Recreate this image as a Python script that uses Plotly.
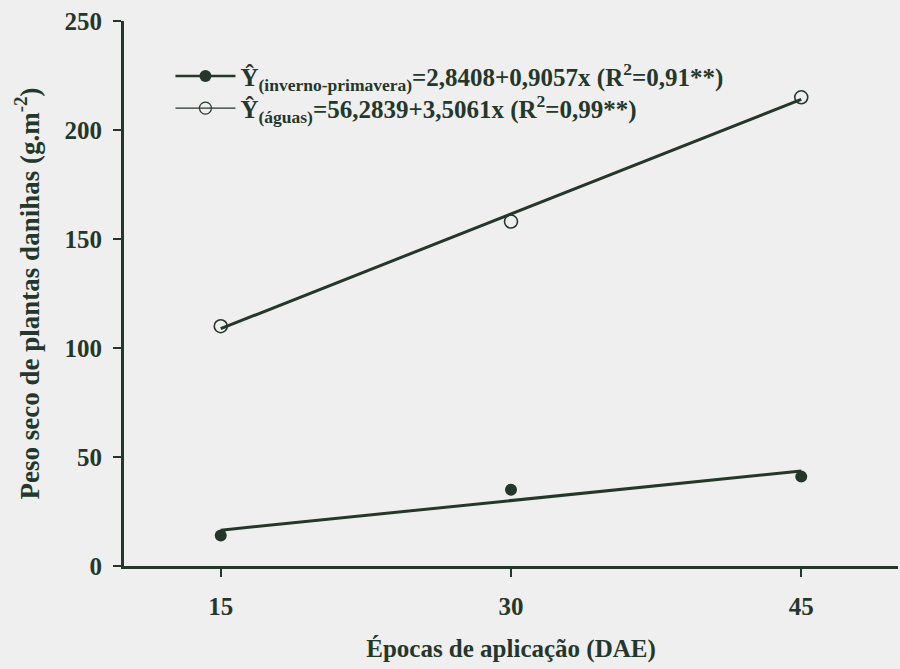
import plotly.graph_objects as go

# Application times (days after emergence)
epocas = [15, 30, 45]

# Observed weed dry weight (g m^-2)
inverno_primavera = [14, 35, 41]
aguas = [110, 158, 215]

# Fitted linear models: intercept, slope
coef_inverno = (2.8408, 0.9057)
coef_aguas = (56.2839, 3.5061)

x_ticks = [15, 30, 45]
y_ticks = [0, 50, 100, 150, 200, 250]

INK = "#24372b"
BG = "#efefef"
FONT = "Liberation Serif"

label_inverno = "<b>Ŷ<sub>(inverno-primavera)</sub>=2,8408+0,9057x (R<sup>2</sup>=0,91**)</b>"
label_aguas = "<b>Ŷ<sub>(águas)</sub>=56,2839+3,5061x (R<sup>2</sup>=0,99**)</b>"

x_fit = [epocas[0], epocas[-1]]

def fit(coef):
    return [coef[0] + coef[1] * x for x in x_fit]

fig = go.Figure()

# Regression lines
fig.add_trace(go.Scatter(x=x_fit, y=fit(coef_inverno), mode="lines",
                         line=dict(color=INK, width=3), showlegend=False))
fig.add_trace(go.Scatter(x=x_fit, y=fit(coef_aguas), mode="lines",
                         line=dict(color=INK, width=3), showlegend=False))

# Observed means
fig.add_trace(go.Scatter(x=epocas, y=inverno_primavera, mode="markers",
                         marker=dict(symbol="circle", size=12, color=INK),
                         showlegend=False))
fig.add_trace(go.Scatter(x=epocas, y=aguas, mode="markers",
                         marker=dict(symbol="circle-open", size=13, color=INK,
                                     line=dict(width=1.6)),
                         showlegend=False))

# Legend entries (line with marker), one legend box per row
fig.add_trace(go.Scatter(x=[None], y=[None], mode="lines+markers", name=label_inverno,
                         legend="legend",
                         line=dict(color=INK, width=2.5),
                         marker=dict(symbol="circle", size=12, color=INK)))
fig.add_trace(go.Scatter(x=[None], y=[None], mode="lines+markers", name=label_aguas,
                         legend="legend2",
                         line=dict(color=INK, width=1.2),
                         marker=dict(symbol="circle-open", size=12, color=INK,
                                     line=dict(width=1.2))))

legend_common = dict(xanchor="left", yanchor="top", bgcolor="rgba(0,0,0,0)",
                     itemwidth=60, font=dict(family=FONT, size=25, color=INK))

fig.update_layout(
    template="none",
    width=900, height=669,
    margin=dict(l=124, r=2, t=21, b=103),
    paper_bgcolor=BG, plot_bgcolor=BG,
    font=dict(family=FONT, color=INK, size=20),
    legend=dict(x=0.06, y=0.941, **legend_common),
    legend2=dict(x=0.06, y=0.882, **legend_common),
    xaxis=dict(range=[10, 50], tickvals=x_ticks,
               ticktext=["<b>%d</b>" % v for v in x_ticks],
               showgrid=False, zeroline=False, showline=True, linecolor=INK, linewidth=3,
               ticks="outside", ticklen=8, tickwidth=2, tickcolor=INK,
               ticklabelstandoff=8,
               tickfont=dict(family=FONT, size=25, color=INK),
               title=dict(text="<b>Épocas de aplicação (DAE)</b>", standoff=21,
                          font=dict(family=FONT, size=25, color=INK))),
    yaxis=dict(range=[0, 250], tickvals=y_ticks,
               ticktext=["<b>%d</b>" % v for v in y_ticks],
               showgrid=False, zeroline=False, showline=True, linecolor=INK, linewidth=3,
               ticks="outside", ticklen=8, tickwidth=2, tickcolor=INK,
               ticklabelstandoff=6,
               tickfont=dict(family=FONT, size=25, color=INK),
               title=dict(text="<b>Peso seco de plantas danihas (g.m<sup>-2</sup>)</b>", standoff=18,
                          font=dict(family=FONT, size=27, color=INK))),
)

fig.write_html("out.html")
